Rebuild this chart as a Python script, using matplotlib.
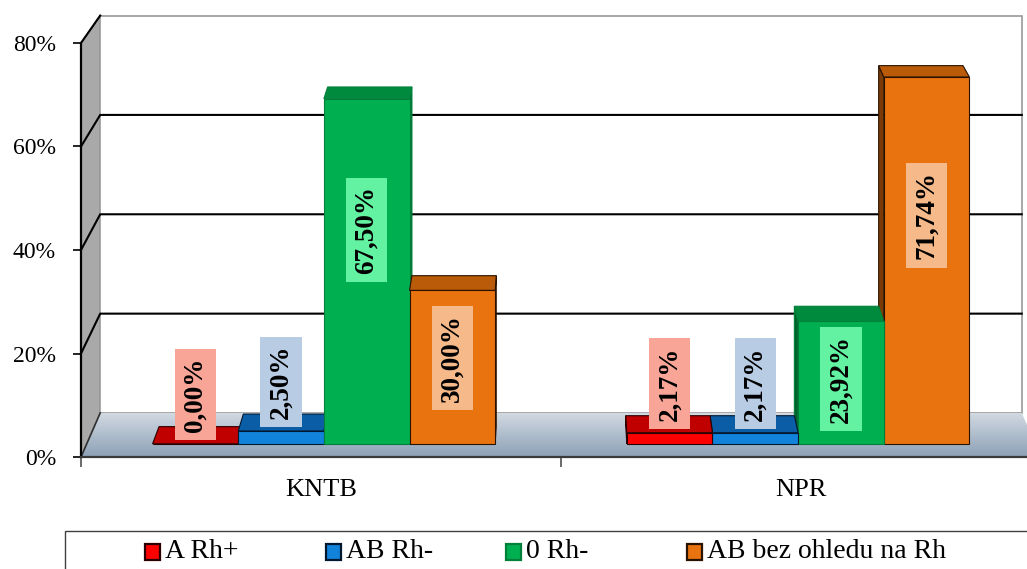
import numpy as np
import matplotlib.pyplot as plt
from matplotlib.patches import Polygon, Rectangle
from matplotlib.colors import LinearSegmentedColormap

# blood group shares per hospital (percent)
categories = ['KNTB', 'NPR']
series = ['A Rh+', 'AB Rh-', '0 Rh-', 'AB bez ohledu na Rh']
a_rh_plus = [0.00, 2.17]
ab_rh_minus = [2.50, 2.17]
zero_rh_minus = [67.50, 23.92]
ab_any_rh = [30.00, 71.74]
y_ticks = [0, 20, 40, 60, 80]

front_col = ['#FF0000', '#1283DB', '#00B050', '#E9730E']
top_col = ['#C00000', '#0B5EA6', '#008A3E', '#B95B09']
side_col = ['#8A0000', '#074178', '#00632C', '#7A3B05']
edge_col = ['#2A0000', '#001830', '#00803A', '#2A1200']
label_bg = ['#F8A597', '#B8CCE4', '#62F2A2', '#F6B98A']

serif = ['Liberation Serif', 'DejaVu Serif']

W, H = 1027, 569
fig = plt.figure(figsize=(W / 100, H / 100), dpi=100)
ax = fig.add_axes([81 / W, (H - 457) / H, 960 / W, 414 / H])
ax.set_xlim(-0.5, 1.5)
ax.set_ylim(0, 80)

# simple perspective: points shrink towards a vanishing point with depth s
VX, VY = 0.5, 1100 / 5.175
S_WALL = 0.96
S_BF, S_BB = 0.988, 0.9724


def proj(x, y, s):
    return (VX + s * (x - VX), VY + s * (y - VY))


def poly(pts, **kw):
    p = Polygon(pts, closed=True, clip_on=False, **kw)
    ax.add_patch(p)
    return p


x_lo, x_hi = -0.5, 1.5
top = 80

# walls and floor
poly([proj(x_lo, 0, 1), proj(x_lo, top, 1), proj(x_lo, top, S_WALL), proj(x_lo, 0, S_WALL)],
     facecolor='#A9A9A9', edgecolor='#707070', lw=0.8, zorder=1)
poly([proj(x_lo, 0, S_WALL), proj(x_hi, 0, S_WALL), proj(x_hi, top, S_WALL), proj(x_lo, top, S_WALL)],
     facecolor='white', edgecolor='#9A9A9A', lw=1.2, zorder=1)
floor = poly([proj(x_lo, 0, 1), proj(x_hi, 0, 1), proj(x_hi, 0, S_WALL), proj(x_lo, 0, S_WALL)],
             facecolor='none', edgecolor='none', zorder=2)
floor_cmap = LinearSegmentedColormap.from_list('floor', ['#D3DAE2', '#8CA1B7'])
grad = np.linspace(0, 1, 100).reshape(-1, 1)
im = ax.imshow(grad, cmap=floor_cmap, extent=[x_lo - 0.05, x_hi + 0.05, 0, proj(0, 0, S_WALL)[1]],
               aspect='auto', origin='upper', zorder=2, clip_on=True)
im.set_clip_path(floor)

# gridlines on back and side wall
for t in y_ticks[1:]:
    xs, ys = zip(proj(x_lo, t, 1), proj(x_lo, t, S_WALL), proj(x_hi, t, S_WALL))
    if t == top:
        ax.plot(xs[:2], ys[:2], color='black', lw=1.5, clip_on=False, zorder=3)
    else:
        ax.plot(xs, ys, color='black', lw=1.5, clip_on=False, zorder=3)
xs, ys = zip(proj(x_lo, 0, 1), proj(x_lo, 0, S_WALL))
ax.plot(xs, ys, color='#303030', lw=1.2, clip_on=False, zorder=3)

# 3D bars
values = np.array([a_rh_plus, ab_rh_minus, zero_rh_minus, ab_any_rh])
w = 0.1806
bars = []
for j in range(len(categories)):
    for i in range(len(series)):
        x0 = j - 2 * w + i * w
        bars.append((i, x0, x0 + w, values[i, j]))
bars.sort(key=lambda b: -abs((b[1] + b[2]) / 2 - VX))

for k, (i, x0, x1, v) in enumerate(bars):
    z = 5 + k * 0.1
    xs_side = x1 if (x0 + x1) / 2 < VX else x0
    poly([proj(xs_side, 0, S_BF), proj(xs_side, v, S_BF), proj(xs_side, v, S_BB), proj(xs_side, 0, S_BB)],
         facecolor=side_col[i], edgecolor=edge_col[i], lw=0.8, zorder=z)
    poly([proj(x0, v, S_BF), proj(x1, v, S_BF), proj(x1, v, S_BB), proj(x0, v, S_BB)],
         facecolor=top_col[i], edgecolor=edge_col[i], lw=0.8, zorder=z)
    poly([proj(x0, 0, S_BF), proj(x1, 0, S_BF), proj(x1, v, S_BF), proj(x0, v, S_BF)],
         facecolor=front_col[i], edgecolor=edge_col[i], lw=0.8, zorder=z)

# value labels: inside tall bars, above short ones
for i, x0, x1, v in bars:
    yl = v / 2 + 0.17 * (v - 20) if v > 20 else v + 9.6
    lx, ly = proj((x0 + x1) / 2, yl, S_BF)
    ax.text(lx, ly, f'{v:.2f}%'.replace('.', ','), rotation=90, ha='center', va='center',
            fontsize=19.5, fontweight='bold', family=serif, zorder=20,
            bbox=dict(boxstyle='square,pad=0.3', facecolor=label_bg[i], edgecolor='none'))

# axes
for name in ['top', 'right']:
    ax.spines[name].set_visible(False)
ax.spines['left'].set_linewidth(1.6)
ax.spines['bottom'].set_color('#3A3A3A')
ax.spines['bottom'].set_linewidth(1.6)
ax.spines['left'].set_zorder(4)
ax.spines['bottom'].set_zorder(4)
ax.set_yticks(y_ticks, [f'{t}%' for t in y_ticks])
ax.set_xticks([0, 1], categories)
ax.set_xticks([-0.5, 0.5, 1.5], minor=True)
ax.tick_params(axis='y', direction='out', length=6, width=1.2, pad=12, labelsize=17)
ax.tick_params(axis='x', which='major', length=0, pad=16, labelsize=19)
ax.tick_params(axis='x', which='minor', direction='out', length=7, width=1.2, color='#505050')
for lab in ax.get_xticklabels() + ax.get_yticklabels():
    lab.set_family(serif)


# legend, drawn by hand in figure pixels
def fpx(x, y):
    return x / W, 1 - y / H


lx0, ly0 = fpx(65, 531)
fig.patches.append(Rectangle((lx0, ly0 - 0.2), 1.2, 0.2, transform=fig.transFigure,
                             facecolor='none', edgecolor='#404040', lw=1.0, zorder=30))
for i, name in enumerate(series):
    mx = 145 + i * 180.7
    rx, ry = fpx(mx, 560)
    fig.patches.append(Rectangle((rx, ry), 15 / W, 16 / H, transform=fig.transFigure,
                                 facecolor=front_col[i], edgecolor=edge_col[i], lw=1.6, zorder=31))
    tx, ty = fpx(mx + 20, 551)
    fig.text(tx, ty, name, ha='left', va='center', fontsize=20, family=serif)

fig.savefig('out.png', dpi=100)
